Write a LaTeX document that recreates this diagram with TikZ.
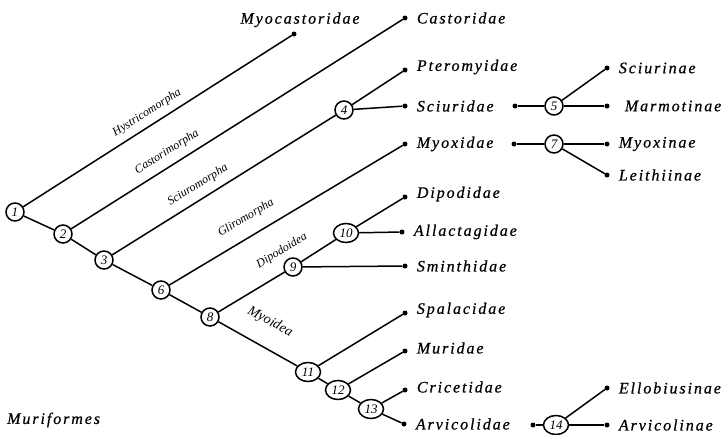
\documentclass[tikz,border=0pt]{standalone}
\usepackage{fontspec}
\usepackage{tikz}
\usetikzlibrary{shapes.geometric}
\newfontfamily\taxfont[LetterSpace=12, FakeBold=0.6]{Liberation Serif}
\newfontfamily\numfont{Liberation Serif}

\begin{document}
\begin{tikzpicture}[x=1pt, y=-1pt,
    branch/.style={line width=1.5pt},
    num/.style={circle, draw, line width=1.5pt, fill=white, inner sep=0pt, minimum size=18pt, font=\numfont\itshape\fontsize{13}{13}\selectfont},
    wide/.style={num, ellipse, minimum width=25pt, minimum height=19pt},
    leaf/.style={circle, fill, inner sep=0pt, minimum size=5pt},
    taxon/.style={inner sep=1pt, label distance=8pt, font=\taxfont\itshape\fontsize{16}{18}\selectfont},
    hand/.style={inner sep=1pt, font=\numfont\itshape\fontsize{12}{13}\selectfont}]
    \useasboundingbox (0,0) rectangle (728,434);

    \node[num] (n1) at (15,212) {1};
    \node[num] (n2) at (63,234) {2};
    \node[num] (n3) at (104,260) {3};
    \node[num] (n4) at (344,110) {4};
    \node[num] (n6) at (161,290) {6};
    \node[num] (n8) at (210,317) {8};
    \node[num] (n9) at (293,267) {9};
    \node[wide] (n10) at (346,233) {10};
    \node[wide] (n11) at (308,372) {11};
    \node[wide] (n12) at (338,390) {12};
    \node[wide] (n13) at (371,409) {13};

    \node[leaf, label={[taxon, xshift=6pt, label distance=3pt]above:Myocastoridae}] (myocast) at (294,34) {};
    \node[leaf, label={[taxon]right:Castoridae}] (castor) at (405,18) {};
    \node[leaf, label={[taxon, yshift=3pt]right:Pteromyidae}] (pterom) at (405,70) {};
    \node[leaf, label={[taxon]right:Sciuridae}] (sciur) at (405,106) {};
    \node[leaf, label={[taxon]right:Myoxidae}] (myox) at (405,144) {};
    \node[leaf, label={[taxon, yshift=3pt]right:Dipodidae}] (dipod) at (405,197) {};
    \node[leaf, label={[taxon]right:Allactagidae}] (allact) at (402,232) {};
    \node[leaf, label={[taxon]right:Sminthidae}] (sminth) at (405,266) {};
    \node[leaf, label={[taxon, yshift=3pt]right:Spalacidae}] (spalac) at (405,313) {};
    \node[leaf, label={[taxon, yshift=3pt]right:Muridae}] (murid) at (405,351) {};
    \node[leaf, label={[taxon, yshift=3pt]right:Cricetidae}] (cricet) at (405,390) {};
    \node[leaf, label={[taxon]right:Arvicolidae}] (arvic) at (404,424) {};

    \draw[branch] (n1) -- (myocast);
    \draw[branch] (n1) -- (n2);
    \draw[branch] (n2) -- (castor);
    \draw[branch] (n2) -- (n3);
    \draw[branch] (n3) -- (n4);
    \draw[branch] (n4) -- (pterom);
    \draw[branch] (n4) -- (sciur);
    \draw[branch] (n3) -- (n6);
    \draw[branch] (n6) -- (myox);
    \draw[branch] (n6) -- (n8);
    \draw[branch] (n8) -- (n9);
    \draw[branch] (n9) -- (n10);
    \draw[branch] (n10) -- (dipod);
    \draw[branch] (n10) -- (allact);
    \draw[branch] (n9) -- (sminth);
    \draw[branch] (n8) -- (n11);
    \draw[branch] (n11) -- (spalac);
    \draw[branch] (n11) -- (n12);
    \draw[branch] (n12) -- (murid);
    \draw[branch] (n12) -- (n13);
    \draw[branch] (n13) -- (cricet);
    \draw[branch] (n13) -- (arvic);

    \node[leaf] (sciurR) at (515,106) {};
    \node[num] (n5) at (554,106) {5};
    \node[leaf, label={[taxon]right:Sciurinae}] (sciurin) at (607,68) {};
    \node[leaf, label={[taxon, label distance=14pt]right:Marmotinae}] (marmot) at (607,106) {};
    \draw[branch] (sciurR) -- (n5);
    \draw[branch] (n5) -- (sciurin);
    \draw[branch] (n5) -- (marmot);

    \node[leaf] (myoxR) at (514,144) {};
    \node[num] (n7) at (554,144) {7};
    \node[leaf, label={[taxon]right:Myoxinae}] (myoxin) at (607,144) {};
    \node[leaf, label={[taxon]right:Leithiinae}] (leith) at (607,175) {};
    \draw[branch] (myoxR) -- (n7);
    \draw[branch] (n7) -- (myoxin);
    \draw[branch] (n7) -- (leith);

    \node[leaf] (arvicR) at (533,425) {};
    \node[wide] (n14) at (556,425) {14};
    \node[leaf, label={[taxon]right:Ellobiusinae}] (ellob) at (607,388) {};
    \node[leaf, label={[taxon]right:Arvicolinae}] (arvicol) at (607,425) {};
    \draw[branch] (arvicR) -- (n14);
    \draw[branch] (n14) -- (ellob);
    \draw[branch] (n14) -- (arvicol);

    \node[hand, rotate=32.4] (hystr) at (147,113) {Hystricomorpha};
    \node[hand, rotate=32.4] (castr) at (167,152) {Castorimorpha};
    \node[hand, rotate=31.5] (sciurm) at (198,185) {Sciuromorpha};
    \node[hand, rotate=31] (glirm) at (246,218) {Gliromorpha};
    \node[hand, rotate=31] (dipodo) at (282,251) {Dipodoidea};
    \node[hand, rotate=-28, font=\numfont\itshape\fontsize{14}{15}\selectfont] (myoid) at (270,322) {Myoidea};

    \node[taxon, anchor=west] (murif) at (6,420) {Muriformes};
\end{tikzpicture}
\end{document}
